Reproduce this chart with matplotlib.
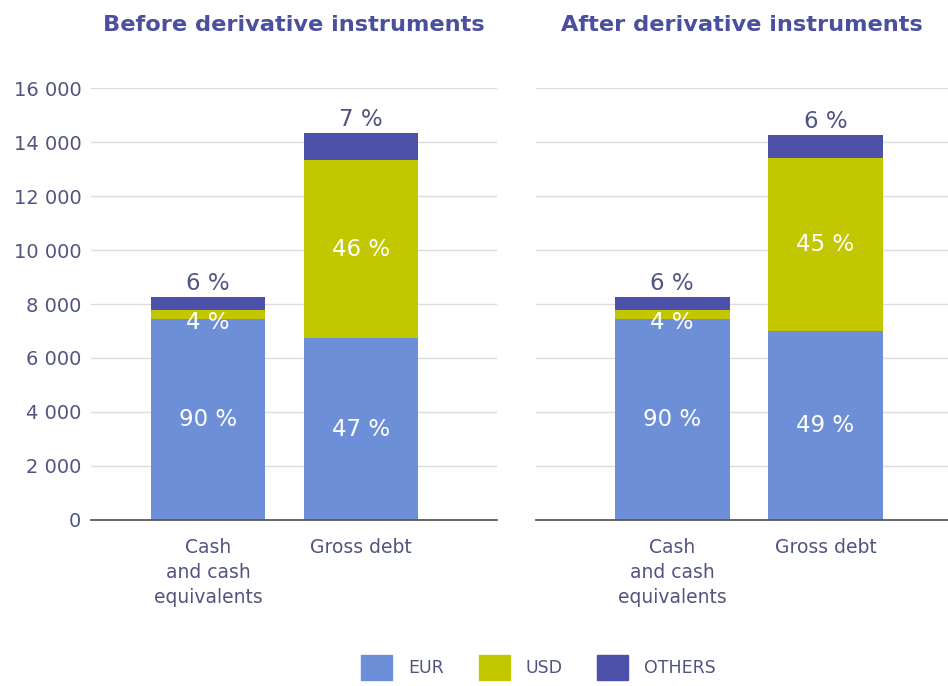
import matplotlib.pyplot as plt
from matplotlib.patches import Patch

plt.rcParams['font.family'] = ['DejaVu Sans']

categories = ['Cash\nand cash\nequivalents', 'Gross debt']
panel_titles = ['Before derivative instruments', 'After derivative instruments']

# amounts per panel: [cash, gross debt]
eur = [[7440, 6740], [7440, 6990]]
usd = [[330, 6590], [330, 6420]]
others = [[500, 1000], [500, 860]]

eur_pct = [['90 %', '47 %'], ['90 %', '49 %']]
usd_pct = [['4 %', '46 %'], ['4 %', '45 %']]
oth_pct = [['6 %', '7 %'], ['6 %', '6 %']]

yticks = [0, 2000, 4000, 6000, 8000, 10000, 12000, 14000, 16000]
ytick_labels = ['0', '2 000', '4 000', '6 000', '8 000', '10 000', '12 000', '14 000', '16 000']

c_eur = '#6d8fd8'
c_usd = '#c3c700'
c_oth = '#4d50a8'
c_title = '#4a4f9e'
c_text = '#50557f'

fig = plt.figure(figsize=(9.48, 6.86), dpi=100)
axes = [fig.add_axes([0.096, 0.242, 0.428, 0.6297]),
        fig.add_axes([0.5654, 0.242, 0.4346, 0.6297])]
xlims = [(-0.765, 1.889), (-0.889, 1.80)]

for i, ax in enumerate(axes):
    x = [0, 1]
    ax.bar(x, eur[i], width=0.75, color=c_eur, zorder=3)
    ax.bar(x, usd[i], width=0.75, bottom=eur[i], color=c_usd, zorder=3)
    base2 = [a + b for a, b in zip(eur[i], usd[i])]
    ax.bar(x, others[i], width=0.75, bottom=base2, color=c_oth, zorder=3)

    for j in x:
        ax.text(j, eur[i][j] / 2, eur_pct[i][j], ha='center', va='center',
                color='white', fontsize=16.5, zorder=4)
        ax.text(j, eur[i][j] + usd[i][j] / 2 - 280 if j == 0 else eur[i][j] + usd[i][j] / 2,
                usd_pct[i][j], ha='center', va='center', color='white', fontsize=16.5, zorder=4)
        top = base2[j] + others[i][j]
        ax.text(j, top + 60, oth_pct[i][j], ha='center', va='bottom',
                color=c_text, fontsize=16.5, zorder=4)

    ax.set_xlim(*xlims[i])
    ax.set_ylim(0, 16000)
    ax.set_yticks(yticks)
    ax.grid(axis='y', color='#dcdcdc', linewidth=1, zorder=0)
    for s in ['top', 'right', 'left']:
        ax.spines[s].set_visible(False)
    ax.spines['bottom'].set_color('#5a5a5a')
    ax.spines['bottom'].set_linewidth(1.3)
    ax.spines['bottom'].set_zorder(5)
    ax.set_xticks(x)
    ax.set_xticklabels(categories, fontsize=13.5, color=c_text, va='top',
                       linespacing=1.4)
    ax.tick_params(axis='x', length=0, pad=13)
    if i == 0:
        ax.set_yticklabels(ytick_labels, fontsize=14, color=c_text)
        ax.tick_params(axis='y', length=0, pad=7)
    else:
        ax.tick_params(axis='y', length=0, labelleft=False)
    ax.set_title(panel_titles[i], fontsize=16.2, fontweight='bold', color=c_title, pad=41)

handles = [Patch(color=c_eur, label='EUR'), Patch(color=c_usd, label='USD'),
           Patch(color=c_oth, label='OTHERS')]
fig.legend(handles=handles, loc='center', bbox_to_anchor=(0.568, 0.027), ncol=3,
           frameon=False, fontsize=12.5, handlelength=1.8, handleheight=1.8,
           handletextpad=0.9, columnspacing=2.0, labelcolor=c_text)

fig.savefig('out.png', dpi=100)
